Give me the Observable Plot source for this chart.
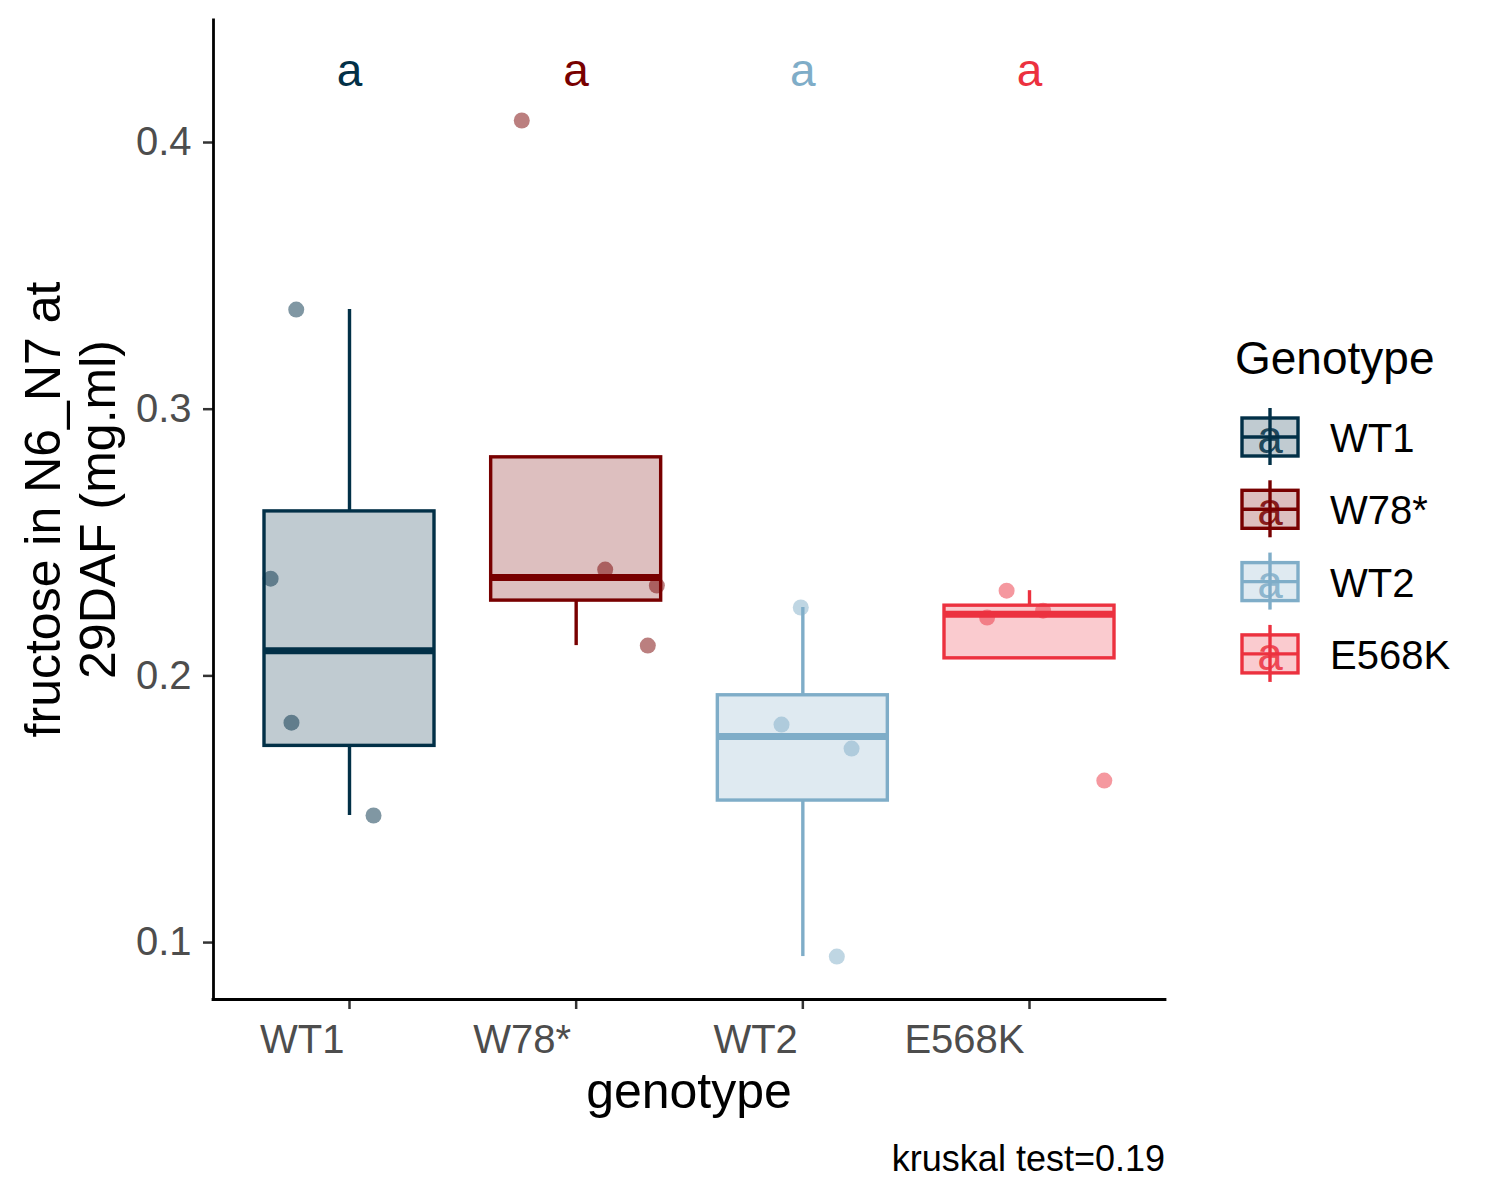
<!DOCTYPE html>
<html><head><meta charset="utf-8">
<script src="https://cdn.jsdelivr.net/npm/d3@7"></script>
<script src="https://cdn.jsdelivr.net/npm/@observablehq/plot@0.6"></script>
<style>body{margin:0;background:#fff} svg{font-family:"Liberation Sans",Arial,sans-serif}</style>
</head><body><div id="chart"></div>
<script>
// ---- data ----
const categories = ["WT1", "W78*", "WT2", "E568K"];
const colors = ["#023047", "#780000", "#7FADC8", "#EC313F"];
const letters = ["a", "a", "a", "a"];
const letterY = 0.426;
const pointGroup = ["WT1","WT1","WT1","WT1","W78*","W78*","W78*","W78*","WT2","WT2","WT2","WT2","E568K","E568K","E568K","E568K"];
const pointValue = [0.3366,0.2357,0.1817,0.1469, 0.4075,0.2391,0.2331,0.2106, 0.2249,0.1810,0.1720,0.0940, 0.2312,0.2211,0.2237,0.1600];
const pointJitter = [-0.235,-0.348,-0.256,0.106, -0.240,0.128,0.356,0.316, -0.009,-0.094,0.215,0.150, -0.101,-0.187,0.060,0.330];
const yTicks = [0.1, 0.2, 0.3, 0.4];
const yTitle = ["fructose in N6_N7 at", "29DAF (mg.ml)"];
const xTitle = "genotype";
const legendTitle = "Genotype";
const caption = "kruskal test=0.19";

// ---- derived tables ----
const points = pointValue.map((v, i) => ({group: pointGroup[i], value: v, x: categories.indexOf(pointGroup[i]) + 1 + pointJitter[i]}));
const boxes = categories.map((c, i) => {
  const vals = points.filter(p => p.group === c).map(p => p.value).sort(d3.ascending);
  const q1 = d3.quantileSorted(vals, 0.25), med = d3.quantileSorted(vals, 0.5), q3 = d3.quantileSorted(vals, 0.75);
  const iqr = q3 - q1;
  const inside = vals.filter(v => v >= q1 - 1.5 * iqr && v <= q3 + 1.5 * iqr);
  return {group: c, pos: i + 1, q1, med, q3, lo: d3.min(inside), hi: d3.max(inside)};
});
const whiskers = [];
boxes.forEach(b => {
  if (b.hi > b.q3) whiskers.push({group: b.group, pos: b.pos, y1: b.q3, y2: b.hi});
  if (b.lo < b.q1) whiskers.push({group: b.group, pos: b.pos, y1: b.lo, y2: b.q1});
});

const W = 1500, H = 1200;
const yDomain = [0.0779, 0.445];
const halfW = 0.375;
const font = '"Liberation Sans", Arial, sans-serif';
const xTicks = [1, 2, 3, 4];

const svgEl = Plot.plot({
  width: W, height: H,
  marginLeft: 213, marginRight: 335, marginTop: 20, marginBottom: 201,
  style: {fontFamily: font, background: "#fff", overflow: "visible"},
  x: {domain: [0.4, 4.6], axis: null},
  y: {domain: yDomain, axis: null},
  color: {domain: categories, range: colors},
  marks: [
    Plot.dot(points, {x: "x", y: "value", fill: "group", r: 8, fillOpacity: 0.5, stroke: null}),
    Plot.ruleX(whiskers, {x: "pos", y1: "y1", y2: "y2", stroke: "group", strokeWidth: 3.4}),
    Plot.rect(boxes, {x1: d => d.pos - halfW, x2: d => d.pos + halfW, y1: "q1", y2: "q3", fill: "group", fillOpacity: 0.25, stroke: "group", strokeWidth: 3.4}),
    Plot.ruleY(boxes, {y: "med", x1: d => d.pos - halfW, x2: d => d.pos + halfW, stroke: "group", strokeWidth: 7}),
    Plot.text(categories, {x: (d, i) => i + 1, y: () => letterY, text: (d, i) => letters[i], fill: d => d, fontSize: 46}),
    Plot.axisY({ticks: yTicks, tickSize: 10, tickPadding: 12, fontSize: 40, stroke: "#333", fill: "#4D4D4D", strokeWidth: 2.5, label: null, tickFormat: d => d.toFixed(1), dy: 2}),
    Plot.axisX({ticks: xTicks, tickFormat: () => "", tickSize: 10, stroke: "#333", strokeWidth: 2.5, label: null}),
    Plot.axisX({ticks: xTicks, tickFormat: d => categories[d - 1], tickSize: 0, tickPadding: 25, fontSize: 40, textAnchor: "end", dx: -5, fill: "#4D4D4D", label: null}),
    Plot.ruleX([0.4], {stroke: "black", strokeWidth: 2.8, strokeLinecap: "square"}),
    Plot.ruleY([yDomain[0]], {stroke: "black", strokeWidth: 2.8, strokeLinecap: "square"})
  ]
});
document.getElementById("chart").appendChild(svgEl);

// ---- titles, caption, legend ----
const svg = d3.select(svgEl);
const yt = svg.append("g").attr("transform", "translate(0,509.5) rotate(-90)");
yt.selectAll("text").data(yTitle).join("text")
  .attr("x", 0).attr("y", (d, i) => 60 + i * 55)
  .attr("text-anchor", "middle").attr("font-size", 50).attr("fill", "black").text(d => d);
svg.append("text").attr("x", 689).attr("y", 1108).attr("text-anchor", "middle")
  .attr("font-size", 50).attr("fill", "black").text(xTitle);
svg.append("text").attr("x", 1165).attr("y", 1171).attr("text-anchor", "end")
  .attr("font-size", 36).attr("fill", "black").text(caption);
svg.append("text").attr("x", 1235).attr("y", 374).attr("text-anchor", "start").attr("font-size", 46).attr("fill", "black").text(legendTitle);
const lg = svg.append("g");
categories.forEach((c, i) => {
  const cy = 437 + i * 72.3, cx = 1270, col = colors[i];
  const g = lg.append("g");
  g.append("line").attr("x1", cx).attr("x2", cx).attr("y1", cy - 29).attr("y2", cy + 28).attr("stroke", col).attr("stroke-width", 3.4);
  g.append("rect").attr("x", 1242).attr("y", cy - 19).attr("width", 56).attr("height", 38)
    .attr("fill", col).attr("fill-opacity", 0.25).attr("stroke", col).attr("stroke-width", 3.4);
  g.append("line").attr("x1", 1242).attr("x2", 1298).attr("y1", cy).attr("y2", cy).attr("stroke", col).attr("stroke-width", 3.4);
  g.append("text").attr("x", cx).attr("y", cy + 16).attr("text-anchor", "middle").attr("font-size", 46).attr("fill", col).attr("fill-opacity", 0.85).text(letters[i]);
  g.append("text").attr("x", 1330).attr("y", cy + 15).attr("text-anchor", "start").attr("font-size", 40).attr("fill", "black").text(c);
});
</script>
</body></html>
